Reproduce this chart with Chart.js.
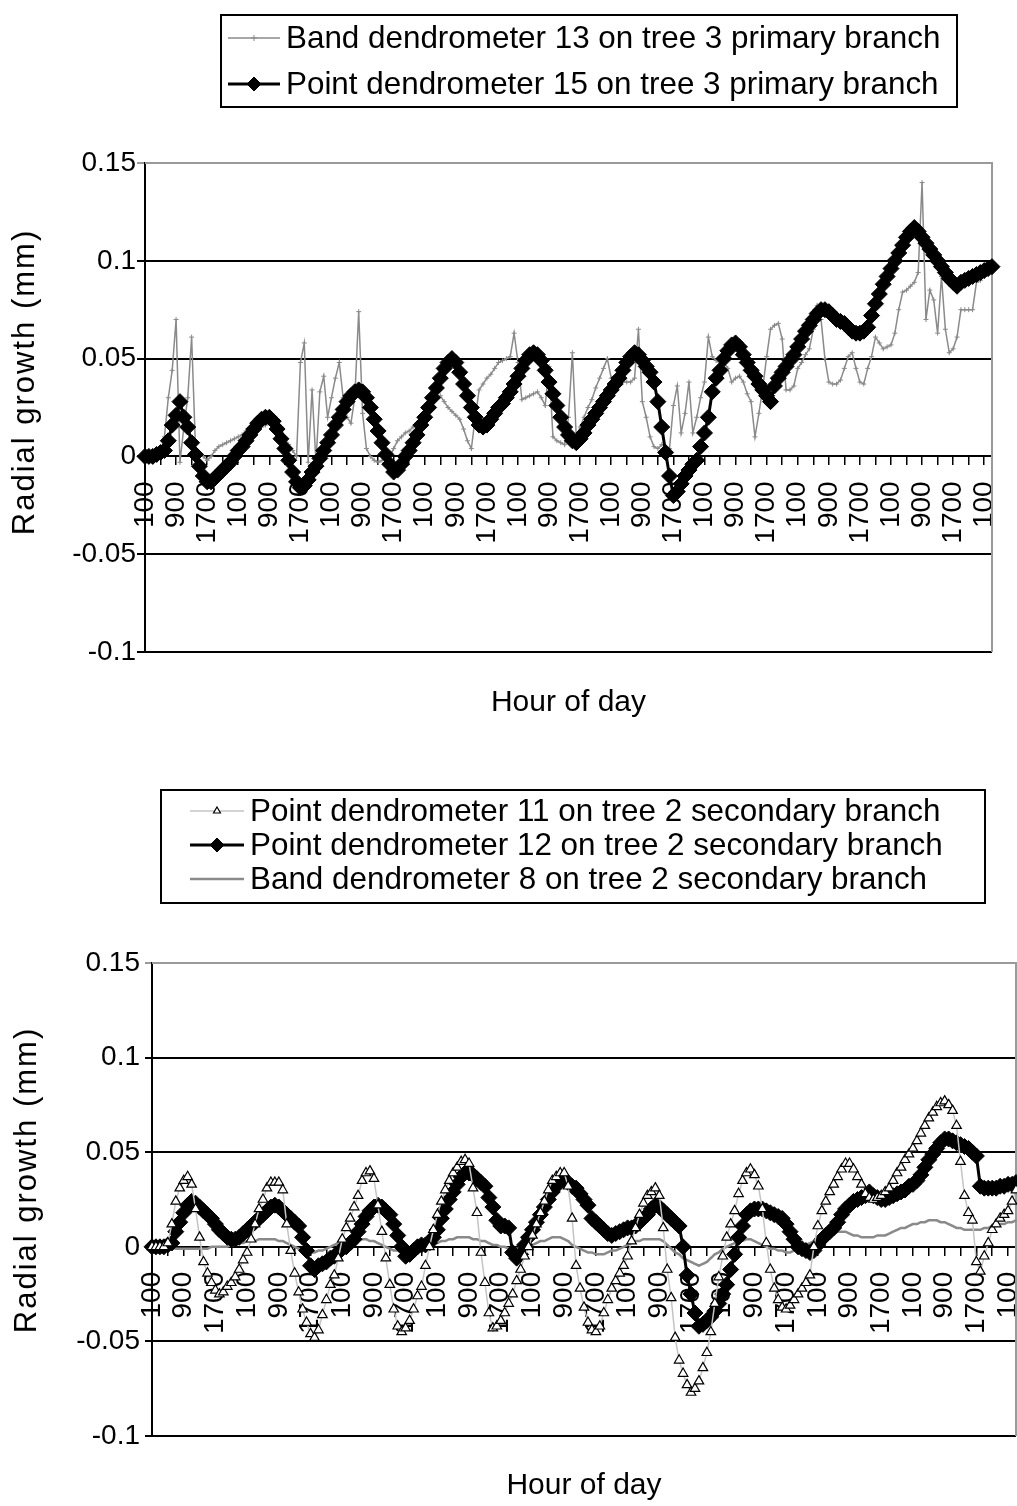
<!DOCTYPE html>
<html><head><meta charset="utf-8">
<script src="https://cdn.jsdelivr.net/npm/chart.js@4.4.1/dist/chart.umd.min.js"></script>
<style>
html,body{margin:0;padding:0;background:#fff;}
#wrap1{position:absolute;left:0;top:0;width:1017px;height:740px;}
#wrap2{position:absolute;left:0;top:740px;width:1017px;height:766px;}
</style></head><body>
<div id="wrap1"><canvas id="c1" width="1017" height="740"></canvas></div>
<div id="wrap2"><canvas id="c2" width="1017" height="766"></canvas></div>
<script>
// ---- categories (hour of day, hourly readings over 9 days) ----
const hourLabels = ["100","200","300","400","500","600","700","800","900","1000","1100","1200",
  "1300","1400","1500","1600","1700","1800","1900","2000","2100","2200","2300","2400"];
const nHours = 219;
const categories = Array.from({length: nHours}, (_, i) => hourLabels[i % 24]);
const yTicks = [-0.1, -0.05, 0, 0.05, 0.1, 0.15];

// ---- top chart series ----
const band13 = [
 0,0,0,0.001,0.002,0.01,0.03,0.044,
 0.07,-0.003,0.015,0.03,0.061,0.004,0.002,0,
 -0.002,0,0.003,0.005,0.006,0.007,0.008,0.009,
 0.01,0.011,0.013,0.014,0.014,0.015,0.015,0.016,
 0.017,0.018,0.019,0.015,0.009,0.006,0.003,0,
 0.048,0.058,-0.003,0.034,-0.003,0.033,0.041,0.02,
 0.03,0.04,0.048,0.03,0.02,0.017,0.03,0.074,
 0.022,0.004,0,-0.002,-0.003,-0.002,-0.001,0,
 0.004,0.008,0.01,0.012,0.013,0.015,0.017,0.02,
 0.023,0.027,0.029,0.031,0.031,0.028,0.025,0.023,
 0.021,0.019,0.014,0.008,0.004,0.02,0.034,0.037,
 0.04,0.042,0.045,0.048,0.049,0.05,0.051,0.063,
 0.048,0.029,0.03,0.031,0.032,0.033,0.03,0.026,
 0.046,0.01,0.008,0.007,0.006,0.02,0.053,0.01,
 0.015,0.02,0.025,0.029,0.035,0.04,0.045,0.05,
 0.04,0.039,0.038,0.038,0.038,0.038,0.04,0.065,
 0.028,0.02,0.01,0.005,0.004,0.006,0.005,0.004,
 0.026,0.036,0.012,0.022,0.038,0.012,0.02,0.03,
 0.038,0.061,0.051,0.049,0.048,0.048,0.045,0.038,
 0.04,0.041,0.038,0.032,0.028,0.01,0.022,0.035,
 0.051,0.065,0.067,0.068,0.06,0.034,0.034,0.036,
 0.045,0.048,0.052,0.055,0.065,0.077,0.07,0.05,
 0.038,0.037,0.037,0.039,0.045,0.051,0.053,0.045,
 0.038,0.037,0.045,0.051,0.061,0.058,0.055,0.056,
 0.057,0.063,0.075,0.084,0.085,0.087,0.089,0.094,
 0.14,0.07,0.085,0.08,0.063,0.092,0.065,0.053,
 0.055,0.061,0.075,0.075,0.075,0.075,0.089,0.09,
 0.092,0.094,0.096];
const point15 = [
 0,0,0,0.001,0.002,0.003,0.008,0.016,
 0.021,0.028,0.02,0.015,0.007,0.001,-0.005,-0.01,
 -0.013,-0.013,-0.011,-0.009,-0.007,-0.005,-0.003,0,
 0.003,0.005,0.008,0.011,0.014,0.017,0.019,0.02,
 0.02,0.018,0.014,0.009,0.004,-0.002,-0.008,-0.013,
 -0.016,-0.015,-0.012,-0.008,-0.005,-0.001,0.003,0.007,
 0.011,0.016,0.02,0.024,0.028,0.031,0.033,0.034,
 0.033,0.03,0.025,0.019,0.013,0.007,0.001,-0.004,
 -0.008,-0.007,-0.004,0,0.003,0.007,0.011,0.016,
 0.02,0.025,0.03,0.035,0.04,0.045,0.048,0.05,
 0.048,0.043,0.037,0.031,0.025,0.02,0.016,0.015,
 0.016,0.019,0.022,0.025,0.027,0.03,0.033,0.037,
 0.041,0.045,0.049,0.052,0.053,0.052,0.049,0.044,
 0.038,0.032,0.026,0.02,0.015,0.011,0.008,0.007,
 0.009,0.012,0.016,0.019,0.022,0.025,0.028,0.031,
 0.034,0.037,0.04,0.044,0.048,0.051,0.053,0.052,
 0.049,0.046,0.043,0.038,0.028,0.015,0.002,-0.01,
 -0.02,-0.018,-0.014,-0.01,-0.007,-0.004,-0.002,0.005,
 0.012,0.02,0.033,0.04,0.044,0.05,0.054,0.057,
 0.058,0.056,0.052,0.048,0.044,0.041,0.037,0.034,
 0.031,0.028,0.036,0.04,0.043,0.046,0.049,0.052,
 0.056,0.06,0.064,0.067,0.07,0.073,0.075,0.075,
 0.074,0.072,0.07,0.069,0.068,0.066,0.064,0.063,
 0.063,0.064,0.066,0.072,0.078,0.083,0.088,0.092,
 0.096,0.1,0.104,0.108,0.112,0.115,0.117,0.115,
 0.112,0.109,0.106,0.103,0.1,0.097,0.094,0.091,
 0.089,0.087,0.089,0.09,0.091,0.092,0.093,0.094,
 0.095,0.096,0.097];

// ---- bottom chart series ----
const point11 = [
 0,0,0,0,0.002,0.012,0.024,0.031,
 0.035,0.037,0.033,0.02,0.005,-0.008,-0.014,-0.019,
 -0.023,-0.025,-0.024,-0.021,-0.019,-0.016,-0.012,-0.007,
 -0.003,0.004,0.012,0.02,0.025,0.031,0.034,0.034,
 0.034,0.03,0.012,-0.002,-0.014,-0.024,-0.033,-0.04,
 -0.046,-0.048,-0.044,-0.036,-0.028,-0.02,-0.015,-0.006,
 0.004,0.01,0.015,0.021,0.027,0.035,0.039,0.04,
 0.036,0.022,0.008,-0.006,-0.02,-0.033,-0.042,-0.045,
 -0.043,-0.039,-0.033,-0.026,-0.021,-0.01,0,0.009,
 0.017,0.024,0.03,0.035,0.039,0.042,0.045,0.046,
 0.044,0.031,0.018,-0.003,-0.019,-0.035,-0.043,-0.042,
 -0.039,-0.035,-0.03,-0.025,-0.018,-0.012,-0.005,0,
 0.006,0.012,0.018,0.024,0.03,0.035,0.037,0.039,
 0.039,0.032,0.015,-0.01,-0.022,-0.032,-0.04,-0.044,
 -0.045,-0.042,-0.035,-0.028,-0.022,-0.018,-0.014,-0.01,
 -0.005,0.003,0.01,0.017,0.023,0.027,0.029,0.031,
 0.027,0.01,-0.012,-0.027,-0.048,-0.06,-0.067,-0.073,
 -0.077,-0.075,-0.071,-0.064,-0.056,-0.045,-0.03,-0.016,
 -0.005,0.005,0.012,0.019,0.028,0.035,0.039,0.041,
 0.038,0.032,0.02,0.002,-0.012,-0.022,-0.028,-0.032,
 -0.033,-0.031,-0.028,-0.025,-0.022,-0.019,-0.015,0,
 0.011,0.019,0.024,0.029,0.033,0.037,0.041,0.044,
 0.044,0.041,0.037,0.033,0.028,0.026,0.025,0.026,
 0.027,0.029,0.031,0.035,0.039,0.042,0.046,0.049,
 0.052,0.056,0.06,0.064,0.068,0.071,0.074,0.076,
 0.077,0.075,0.072,0.064,0.045,0.027,0.018,0.014,
 -0.008,-0.013,-0.005,0.002,0.009,0.012,0.015,0.017,
 0.019,0.024,0.03];
const point12 = [
 0,0,0,0,0.001,0.002,0.008,0.013,
 0.018,0.022,0.024,0.023,0.021,0.019,0.017,0.015,
 0.012,0.009,0.007,0.005,0.004,0.004,0.005,0.007,
 0.009,0.011,0.013,0.015,0.017,0.019,0.021,0.022,
 0.021,0.019,0.017,0.015,0.013,0.011,0.005,-0.002,
 -0.01,-0.012,-0.01,-0.009,-0.008,-0.006,-0.005,-0.003,
 -0.001,0,0.002,0.004,0.008,0.012,0.016,0.019,
 0.021,0.022,0.021,0.019,0.017,0.012,0.006,0,
 -0.005,-0.004,-0.002,0,0.001,0.001,0.002,0.005,
 0.009,0.015,0.02,0.025,0.029,0.033,0.037,0.039,
 0.039,0.038,0.036,0.034,0.032,0.026,0.021,0.014,
 0.011,0.011,0.01,-0.003,-0.006,-0.004,0.001,0.005,
 0.009,0.013,0.017,0.021,0.025,0.029,0.032,0.035,
 0.035,0.034,0.032,0.031,0.028,0.025,0.022,0.015,
 0.013,0.011,0.009,0.007,0.006,0.007,0.008,0.009,
 0.01,0.01,0.011,0.013,0.015,0.017,0.02,0.022,
 0.021,0.019,0.017,0.015,0.013,0.011,0,-0.015,
 -0.025,-0.035,-0.042,-0.041,-0.039,-0.037,-0.034,-0.03,
 -0.025,-0.02,-0.012,-0.004,0.005,0.011,0.017,0.019,
 0.02,0.02,0.02,0.019,0.018,0.017,0.016,0.015,
 0.012,0.008,0.004,0,-0.001,-0.002,-0.003,-0.002,
 0.001,0.004,0.006,0.008,0.01,0.013,0.017,0.02,
 0.022,0.024,0.025,0.026,0.027,0.029,0.027,0.026,
 0.025,0.025,0.026,0.027,0.028,0.029,0.03,0.032,
 0.033,0.035,0.038,0.042,0.046,0.049,0.052,0.055,
 0.057,0.057,0.056,0.055,0.054,0.053,0.052,0.05,
 0.048,0.032,0.031,0.031,0.031,0.031,0.032,0.032,
 0.033,0.033,0.034];
const band8 = [
 0,0,0,0,0,0,-0.001,-0.001,
 -0.001,-0.001,-0.001,-0.001,-0.001,-0.001,-0.001,0,
 0,0,0,0,0.001,0.001,0.002,0.002,
 0.003,0.003,0.003,0.004,0.004,0.004,0.004,0.004,
 0.003,0.003,0.002,0.001,0,-0.001,-0.002,-0.003,
 -0.003,-0.003,-0.002,-0.002,-0.001,0,0.001,0.002,
 0.002,0.003,0.003,0.004,0.004,0.004,0.004,0.003,
 0.003,0.002,0.001,0,-0.001,-0.002,-0.002,-0.003,
 -0.003,-0.003,-0.002,-0.001,-0.001,0,0.001,0.002,
 0.002,0.003,0.003,0.004,0.004,0.005,0.005,0.005,
 0.005,0.004,0.004,0.003,0.003,0.002,0.001,0.001,
 0,0,-0.001,-0.001,-0.001,-0.001,-0.001,0,
 0.001,0.002,0.003,0.003,0.004,0.005,0.005,0.005,
 0.004,0.003,0.001,0,-0.001,-0.002,-0.003,-0.003,
 -0.004,-0.004,-0.004,-0.003,-0.002,-0.002,-0.001,0,
 0.001,0.002,0.003,0.003,0.004,0.004,0.004,0.004,
 0.004,0.003,0.001,-0.001,-0.003,-0.004,-0.006,-0.007,
 -0.008,-0.009,-0.01,-0.009,-0.008,-0.006,-0.004,-0.003,
 -0.001,0,0.001,0.002,0.003,0.003,0.004,0.004,
 0.003,0.002,0.001,0,-0.001,-0.001,-0.002,-0.002,
 -0.003,-0.003,-0.002,-0.001,0,0.001,0.002,0.003,
 0.004,0.005,0.005,0.006,0.007,0.008,0.008,0.008,
 0.007,0.006,0.006,0.005,0.005,0.005,0.005,0.006,
 0.006,0.006,0.007,0.008,0.009,0.01,0.01,0.011,
 0.012,0.012,0.013,0.013,0.014,0.014,0.014,0.013,
 0.013,0.012,0.011,0.01,0.01,0.009,0.009,0.009,
 0.009,0.009,0.01,0.01,0.011,0.011,0.012,0.012,
 0.013,0.013,0.014];

Chart.defaults.font.family = '"Liberation Sans", Arial, sans-serif';
Chart.defaults.color = '#000';

// boxed legend drawn like the original spreadsheet legend
const boxLegend = {
  id: 'boxLegend',
  afterDraw(chart, args, o) {
    const ctx = chart.ctx;
    ctx.save();
    ctx.lineWidth = 2; ctx.strokeStyle = '#000';
    ctx.strokeRect(o.x, o.y, o.w, o.h);
    ctx.font = o.fontSize + 'px "Liberation Sans", Arial, sans-serif';
    ctx.textBaseline = 'middle'; ctx.textAlign = 'left';
    o.order.forEach((di, k) => {
      const ds = chart.data.datasets[di];
      const y = o.firstY + k * o.rowH;
      ctx.strokeStyle = ds.borderColor; ctx.lineWidth = ds.borderWidth;
      ctx.beginPath(); ctx.moveTo(o.lineX0, y); ctx.lineTo(o.lineX1, y); ctx.stroke();
      ctx.fillStyle = ds.pointBackgroundColor; ctx.strokeStyle = ds.pointBorderColor;
      ctx.lineWidth = ds.pointBorderWidth;
      Chart.helpers.drawPoint(ctx, {pointStyle: ds.pointStyle, rotation: 0,
        radius: ds.legendRadius, borderWidth: ds.pointBorderWidth}, (o.lineX0 + o.lineX1) / 2, y);
      ctx.fillStyle = '#000';
      ctx.fillText(ds.label, o.textX, y + 1);
    });
    ctx.restore();
  }
};
// grey plot-area frame (top and right edges)
const plotFrame = {
  id: 'plotFrame',
  beforeDatasetsDraw(chart) {
    const {ctx, chartArea: a} = chart;
    ctx.save(); ctx.strokeStyle = '#9a9a9a'; ctx.lineWidth = 2;
    ctx.beginPath(); ctx.moveTo(a.left, a.top); ctx.lineTo(a.right, a.top); ctx.lineTo(a.right, a.bottom); ctx.stroke();
    ctx.restore();
  }
};
// value-axis title, placed where the spreadsheet put it
const yTitle = {
  id: 'yTitle',
  afterDraw(chart, args, o) {
    const ctx = chart.ctx;
    ctx.save();
    ctx.translate(o.x, o.y); ctx.rotate(-Math.PI / 2);
    ctx.font = o.fontSize + 'px "Liberation Sans", Arial, sans-serif';
    if ('letterSpacing' in ctx) ctx.letterSpacing = o.spacing + 'px';
    ctx.textAlign = 'center'; ctx.textBaseline = 'middle'; ctx.fillStyle = '#000';
    ctx.fillText(o.text, 0, 0);
    ctx.restore();
  }
};

function xScale(tickPad) {
  return {
    type: 'category', position: {y: 0}, offset: false,
    grid: {drawOnChartArea: false, drawTicks: true, tickLength: 8, lineWidth: 1.5,
      color: c => (c.index % 4 === 0 ? '#000' : 'rgba(0,0,0,0)')},
    border: {display: true, color: '#000', width: 2},
    ticks: {autoSkip: false, maxRotation: 90, minRotation: 90, padding: tickPad, color: '#000',
      font: {size: 28},
      callback(v, i) { return i % 8 === 0 ? this.getLabelForValue(v) : ''; }},
    afterFit(s) { s.paddingLeft = 0; s.paddingRight = 0; }
  };
}
function yScale(width, tickLen, pad) {
  return {
    min: yTicks[0], max: yTicks[yTicks.length - 1], position: 'left',
    afterBuildTicks(s) { s.ticks = yTicks.map(v => ({value: v})); },
    ticks: {color: '#000', font: {size: 28}, padding: pad, callback: v => String(v)},
    grid: {lineWidth: 2, tickLength: tickLen,
      color: c => (c.tick && Math.abs(c.tick.value - 0.15) < 1e-9 ? '#9a9a9a' : '#000')},
    border: {color: '#000', width: 2},
    afterFit(s) { s.width = width; }
  };
}

new Chart(document.getElementById('c1'), {
  type: 'line',
  data: {labels: categories, datasets: [
    {label: 'Band dendrometer 13 on tree 3 primary branch', data: band13, order: 1,
     borderColor: '#8a8a8a', borderWidth: 1.5, pointStyle: 'cross', pointRadius: 2.5, legendRadius: 3,
     pointBorderColor: '#8a8a8a', pointBackgroundColor: '#8a8a8a', pointBorderWidth: 1, tension: 0},
    {label: 'Point dendrometer 15 on tree 3 primary branch', data: point15, order: 0,
     borderColor: '#000', borderWidth: 3, pointStyle: 'rectRot', pointRadius: 8, legendRadius: 7,
     pointBorderColor: '#000', pointBackgroundColor: '#000', pointBorderWidth: 1, tension: 0}
  ]},
  options: {
    responsive: false, animation: false, events: [], devicePixelRatio: 1,
    layout: {autoPadding: false, padding: {left: 0, right: 25, top: 163, bottom: 19}},
    plugins: {
      legend: {display: false}, tooltip: {enabled: false},
      title: {display: true, text: 'Hour of day', position: 'bottom', fullSize: false, color: '#000',
        font: {size: 30, weight: 'normal'}, padding: {top: 33, bottom: 0}},
      boxLegend: {x: 221, y: 15, w: 736, h: 92, firstY: 38, rowH: 46, lineX0: 228, lineX1: 280, textX: 286,
        fontSize: 31.4, order: [0, 1]},
      yTitle: {text: 'Radial growth (mm)', x: 25, y: 382, fontSize: 31, spacing: 2}
    },
    scales: {x: xScale(17), y: yScale(145, 8, 1)}
  },
  plugins: [boxLegend, plotFrame, yTitle]
});

new Chart(document.getElementById('c2'), {
  type: 'line',
  data: {labels: categories, datasets: [
    {label: 'Point dendrometer 11 on tree 2 secondary branch', data: point11, order: 0,
     borderColor: '#c4c4c4', borderWidth: 1.5, pointStyle: 'triangle', pointRadius: 5.5, legendRadius: 4,
     pointBorderColor: '#000', pointBackgroundColor: '#fff', pointBorderWidth: 1.2, tension: 0},
    {label: 'Point dendrometer 12 on tree 2 secondary branch', data: point12, order: 1,
     borderColor: '#000', borderWidth: 3, pointStyle: 'rectRot', pointRadius: 8, legendRadius: 7,
     pointBorderColor: '#000', pointBackgroundColor: '#000', pointBorderWidth: 1, tension: 0},
    {label: 'Band dendrometer 8 on tree 2 secondary branch', data: band8, order: 2,
     borderColor: '#8a8a8a', borderWidth: 2.5, pointStyle: 'line', pointRadius: 1.5, legendRadius: 2,
     pointBorderColor: '#8a8a8a', pointBackgroundColor: '#8a8a8a', pointBorderWidth: 1, tension: 0}
  ]},
  options: {
    responsive: false, animation: false, events: [], devicePixelRatio: 1,
    layout: {autoPadding: false, padding: {left: 0, right: 1, top: 223, bottom: 2}},
    plugins: {
      legend: {display: false}, tooltip: {enabled: false},
      title: {display: true, text: 'Hour of day', position: 'bottom', fullSize: false, color: '#000',
        font: {size: 30, weight: 'normal'}, padding: {top: 32, bottom: 0}},
      boxLegend: {x: 161, y: 50, w: 824, h: 113, firstY: 71, rowH: 34, lineX0: 190, lineX1: 244, textX: 250,
        fontSize: 31.4, order: [0, 1, 2]},
      yTitle: {text: 'Radial growth (mm)', x: 27, y: 440, fontSize: 31, spacing: 2}
    },
    scales: {x: xScale(17), y: yScale(152, 7, 5)}
  },
  plugins: [boxLegend, plotFrame, yTitle]
});
</script>
</body></html>
